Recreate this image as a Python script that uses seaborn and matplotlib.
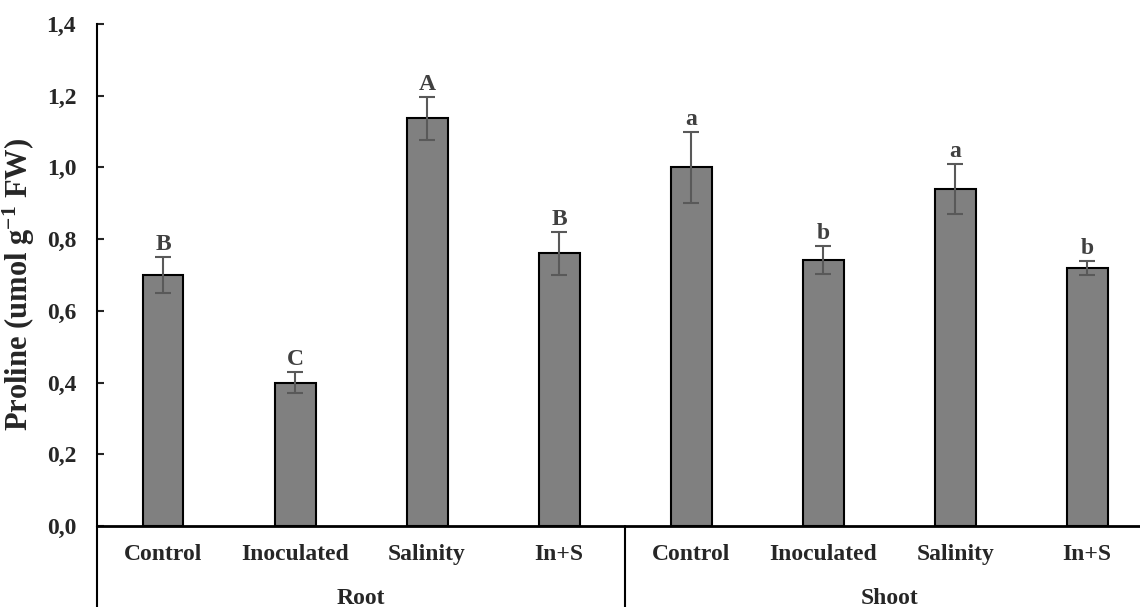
import matplotlib
matplotlib.use("Agg")
import matplotlib.pyplot as plt
import matplotlib.transforms as mtransforms
import seaborn as sns
import pandas as pd

organs = ["Root"] * 4 + ["Shoot"] * 4
treatments = ["Control", "Inoculated", "Salinity", "In+S"] * 2
values = [0.70, 0.40, 1.137, 0.76, 1.00, 0.742, 0.94, 0.72]
errors = [0.05, 0.03, 0.06, 0.06, 0.10, 0.04, 0.07, 0.02]
letters = ["B", "C", "A", "B", "a", "b", "a", "b"]
yticks = [0.0, 0.2, 0.4, 0.6, 0.8, 1.0, 1.2, 1.4]
ytick_labels = ["0,0", "0,2", "0,4", "0,6", "0,8", "1,0", "1,2", "1,4"]
group_names = ["Root", "Shoot"]

sns.set_style("white")
plt.rcParams["font.family"] = ["Liberation Serif", "DejaVu Serif"]
plt.rcParams["font.weight"] = "bold"
plt.rcParams["mathtext.fontset"] = "custom"
plt.rcParams["mathtext.rm"] = "Liberation Serif:bold"
plt.rcParams["mathtext.it"] = "Liberation Serif:bold"
plt.rcParams["mathtext.bf"] = "Liberation Serif:bold"
plt.rcParams["mathtext.default"] = "rm"

df = pd.DataFrame({
    "key": [f"{o}-{t}" for o, t in zip(organs, treatments)],
    "organ": organs,
    "treatment": treatments,
    "value": values,
})

W, H = 1140, 607
fig = plt.figure(figsize=(W / 100, H / 100), dpi=100)
ax = fig.add_axes([97 / W, 81 / H, (1140 - 97) / W, 502 / H])

sns.barplot(data=df, x="key", y="value", order=list(df["key"]), color="#808080",
            saturation=1, width=0.31, edgecolor="black", linewidth=1.5,
            errorbar=None, ax=ax)

xs = [p.get_x() + p.get_width() / 2 for p in ax.patches]
ax.errorbar(xs, values, yerr=errors, fmt="none", ecolor="#595959",
            elinewidth=1.5, capsize=6, capthick=1.5, zorder=5)

for x, v, e, lab in zip(xs, values, errors, letters):
    ax.annotate(lab, (x, v + e), xytext=(0, 5), textcoords="offset points",
                ha="center", va="baseline", fontsize=17, fontweight="bold",
                color="#404040")

ax.set_xlim(-0.5, 7.4)
ax.set_ylim(0, 1.4)
ax.set_yticks(yticks)
ax.set_yticklabels(ytick_labels)
ax.set_xticks(range(len(treatments)))
ax.set_xticklabels(treatments)
ax.tick_params(axis="y", direction="in", length=5, width=1.5, pad=15,
               labelsize=17, left=True)
ax.tick_params(axis="x", length=0, pad=13, labelsize=17)
for lab in ax.get_xticklabels() + ax.get_yticklabels():
    lab.set_fontweight("bold")

ax.set_xlabel("")
ax.set_ylabel("Proline (umol g$^{-1}$ FW)", fontsize=22, fontweight="bold")
ax.yaxis.set_label_coords(-0.0575, 0.482)

for s in ["top", "right"]:
    ax.spines[s].set_visible(False)
ax.spines["left"].set_linewidth(1.5)
ax.spines["bottom"].set_linewidth(2)
ax.spines["left"].set_color("black")
ax.spines["bottom"].set_color("black")

trans = mtransforms.blended_transform_factory(ax.transData, ax.transAxes)
for xd in [-0.5, 3.5]:
    ax.plot([xd, xd], [0, -0.2], transform=trans, color="black", lw=1.5,
            clip_on=False)
for i, g in enumerate(group_names):
    ax.text(i * 4 + 1.5, -0.144, g, transform=trans, ha="center", va="center",
            fontsize=17, fontweight="bold")

fig.savefig("out.png", dpi=100)
